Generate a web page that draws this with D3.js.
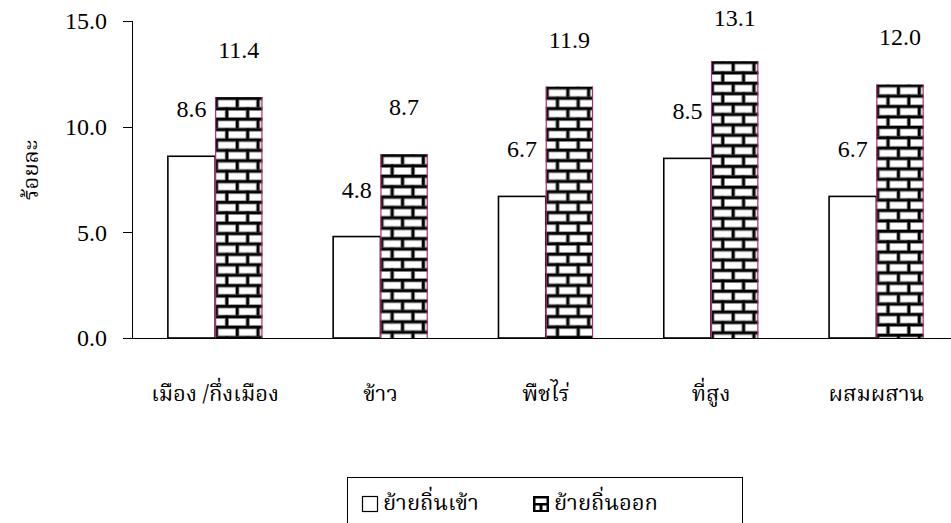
<!DOCTYPE html>
<html><head><meta charset="utf-8">
<script src="https://cdn.jsdelivr.net/npm/d3@7"></script>
<style>
html,body{margin:0;padding:0;background:#fff;}
svg{display:block;}
</style></head><body>
<svg id="c" width="951" height="523"></svg>
<script>
const categories = ["เมือง /กึ่งเมือง", "ข้าว", "พืชไร่", "ที่สูง", "ผสมผสาน"];
const seriesNames = ["ย้ายถิ่นเข้า", "ย้ายถิ่นออก"];
const migrationIn = [8.6, 4.8, 6.7, 8.5, 6.7];
const migrationOut = [11.4, 8.7, 11.9, 13.1, 12.0];
const yTicks = [0, 5, 10, 15];
const yTitle = "ร้อยละ";

const NUMF = "Liberation Serif, Times New Roman, serif";
const THAIF = "Noto Serif Thai, Noto Sans Thai, serif";

const svg = d3.select("#c");
const x0 = d3.scaleBand().domain(categories).range([132.5, 959]).paddingInner(0.428).paddingOuter(0.214);
const x1 = d3.scaleBand().domain([0, 1]).range([0, x0.bandwidth()]);
const y = d3.scaleLinear().domain([0, 15]).range([338, 21]);

function num(sel) { return sel.attr("font-family", NUMF).attr("font-size", 24).attr("fill", "#000"); }
function thai(sel, size) { return sel.attr("font-family", THAIF).attr("font-size", size).attr("fill", "#000"); }

const defs = svg.append("defs");
const T = 20.8, h = 10.4, m = 2.6;
function makePattern(id, px, py) {
  const p = defs.append("pattern").attr("id", id).attr("patternUnits", "userSpaceOnUse")
    .attr("width", T).attr("height", T).attr("x", px).attr("y", py);
  p.append("rect").attr("width", T).attr("height", T).attr("fill", "#fff");
  const grey = [[0, -0.8, T, m + 1.6], [0, h - 0.8, T, m + 1.6], [-0.8, 0, m + 1.6, h], [T - 0.8, 0, 1, h], [h - 0.8, h, m + 1.6, h], [0, T - 0.8, T, 0.8]];
  grey.forEach(r => p.append("rect").attr("x", r[0]).attr("y", r[1]).attr("width", r[2]).attr("height", r[3]).attr("fill", "#8a8a8a"));
  const blk = [[0, 0, T, m], [0, h, T, m], [0, 0, m, h], [h, h, m, h]];
  blk.forEach(r => p.append("rect").attr("x", r[0]).attr("y", r[1]).attr("width", r[2]).attr("height", r[3]).attr("fill", "#000"));
}

svg.append("line").attr("x1", 132.5).attr("x2", 132.5).attr("y1", y(15)).attr("y2", y(0)).attr("stroke", "#000").attr("stroke-width", 1);
yTicks.forEach(t => {
  svg.append("line").attr("x1", 123).attr("x2", 132.5).attr("y1", Math.round(y(t)) + 0.5).attr("y2", Math.round(y(t)) + 0.5).attr("stroke", "#000");
  num(svg.append("text")).attr("x", 107).attr("y", y(t)).attr("dy", "0.35em")
    .attr("text-anchor", "end").text(d3.format(".1f")(t));
});

categories.forEach((c, i) => {
  const xa = x0(c) + x1(0), xb = x0(c) + x1(1), w = x1.bandwidth();
  const v0 = migrationIn[i], v1 = migrationOut[i];
  svg.append("rect").attr("x", xa).attr("y", y(v0)).attr("width", w).attr("height", y(0) - y(v0))
    .attr("fill", "#fff").attr("stroke", "#000").attr("stroke-width", 1.6);
  makePattern("brick" + i, xb, y(v1));
  svg.append("rect").attr("x", xb).attr("y", y(v1)).attr("width", w).attr("height", y(0) - y(v1))
    .attr("fill", "url(#brick" + i + ")");
  svg.append("line").attr("x1", xb + 0.5).attr("x2", xb + 0.5).attr("y1", y(v1)).attr("y2", y(0)).attr("stroke", "#a8306e").attr("stroke-width", 1.2);
  svg.append("line").attr("x1", xb + w - 0.5).attr("x2", xb + w - 0.5).attr("y1", y(v1)).attr("y2", y(0)).attr("stroke", "#a8306e").attr("stroke-width", 1.2);
  [[xa, v0], [xb, v1]].forEach(([xx, v]) => {
    num(svg.append("text")).attr("x", xx + w / 2).attr("y", Math.max(y(v) - 39, 26))
      .attr("text-anchor", "middle").text(d3.format(".1f")(v));
  });
  thai(svg.append("text"), 22).attr("x", x0(c) + x0.bandwidth() / 2).attr("y", 401)
    .attr("text-anchor", "middle").text(c);
});

svg.append("line").attr("x1", 123).attr("x2", 951).attr("y1", 338.5).attr("y2", 338.5).attr("stroke", "#000");

thai(svg.append("text"), 22)
  .attr("transform", "translate(38,170) rotate(-90)").attr("text-anchor", "middle").text(yTitle);

const lg = svg.append("g");
lg.append("rect").attr("x", 347.5).attr("y", 477.5).attr("width", 395).attr("height", 60)
  .attr("fill", "#fff").attr("stroke", "#000").attr("stroke-width", 1);
lg.append("rect").attr("x", 362.5).attr("y", 496.5).attr("width", 15).attr("height", 15)
  .attr("fill", "#fff").attr("stroke", "#000").attr("stroke-width", 1.2);
thai(lg.append("text"), 22).attr("x", 383).attr("y", 510).text(seriesNames[0]);
lg.append("rect").attr("x", 533).attr("y", 496).attr("width", 16).attr("height", 16).attr("fill", "#000");
lg.append("rect").attr("x", 535.5).attr("y", 498.5).attr("width", 11).attr("height", 4.5).attr("fill", "#fff");
lg.append("rect").attr("x", 535.5).attr("y", 505.5).attr("width", 4).attr("height", 4.5).attr("fill", "#fff");
lg.append("rect").attr("x", 542.5).attr("y", 505.5).attr("width", 4).attr("height", 4.5).attr("fill", "#fff");
thai(lg.append("text"), 22).attr("x", 554).attr("y", 510).text(seriesNames[1]);
</script>
</body></html>
